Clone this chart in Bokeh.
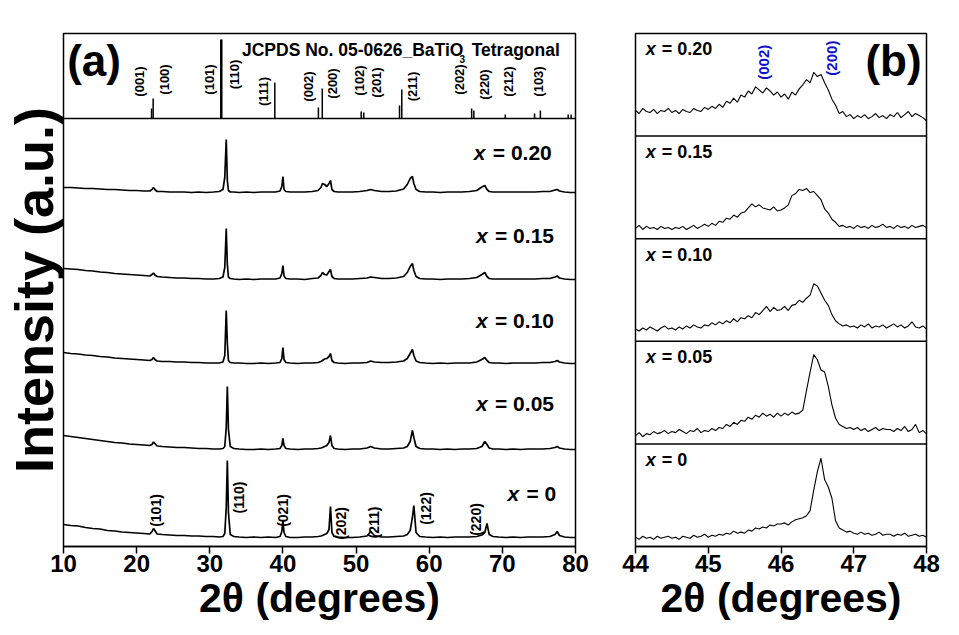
import numpy as np
from bokeh.plotting import figure
from bokeh.layouts import row
from bokeh.models import Range1d, FixedTicker, Span
from bokeh.core.properties import value
from bokeh.embed import file_html
from bokeh.resources import INLINE

FONT = "Liberation Sans"

# ---------------- panel (a) data ----------------
tt_a = [10, 11, 12, 13, 14, 15, 16, 17, 18, 19,
        20, 21, 21.8, 22.1, 22.3, 22.5, 22.8, 23.5, 24.5, 25.5,
        26.5, 27.5, 28.5, 29.5, 30.5, 31.3, 31.8, 32.05, 32.25, 32.4,
        32.55, 32.8, 33.3, 34, 35, 36, 37, 38, 39, 39.6,
        39.85, 40.0, 40.15, 40.4, 41, 42, 43, 44, 44.8, 45.2,
        45.4, 45.7, 46.0, 46.3, 46.5, 46.7, 47.0, 47.5, 48.5, 49.5,
        50.5, 51.5, 52.0, 52.5, 53.5, 54.5, 55.5, 56.5, 57.0, 57.4,
        57.7, 57.9, 58.2, 58.7, 59.5, 60.5, 61.5, 62.5, 63.5, 64.5,
        65.5, 66.5, 67.2, 67.6, 67.9, 68.2, 68.7, 69.5, 70.5, 71.5,
        72.5, 73.5, 74.5, 75.5, 76.5, 77.2, 77.5, 77.8, 78.5, 79.3,
        80]

i_x000 = [13, 12, 11.5, 10, 9, 8.5, 7, 6.5, 5.5, 5,
          4.5, 4, 3.5, 6, 9, 7, 3.5, 3, 2.5, 2,
          2, 1.5, 1.5, 1, 1, 0.5, 1, 4, 30, 77,
          25, 3, 1, 0.5, 0, 0.5, 0, 0.5, 0, 1,
          6, 17, 5, 1, 0, 0, 0.5, 0.5, 1, 1.5,
          2, 3, 4, 8, 31, 5, 1, 0.5, 0, 0,
          0.5, 1.5, 6, 2, 0.5, 0.5, 1, 1.5, 3, 7,
          20, 32, 5, 1, 0.5, 0, 0.5, 0, 0.5, 0.5,
          0.5, 1, 2.5, 5, 14, 3, 1, 0.5, 0, 0.5,
          0, 0.5, 0.5, 0.5, 1, 3, 6, 2, 0.5, 0,
          0]

i_x005 = [14, 13, 12, 11, 10, 9, 8, 7, 6.5, 5.5,
          5, 4.5, 4, 5, 7.5, 6, 3.5, 3, 2.5, 2,
          2, 1.5, 1, 1, 0.5, 0.5, 1, 3, 22, 63,
          20, 3, 1, 0.5, 0, 0, 0.5, 0, 0.5, 1,
          4, 11, 4, 1, 0.5, 0, 0.5, 0.5, 1, 1.5,
          2, 3, 4, 7, 14, 4, 1, 0.5, 0, 0.5,
          0.5, 1.5, 3, 1.5, 0.5, 0.5, 1, 1.5, 3, 8,
          19, 12, 3, 1, 0.5, 0.5, 0, 0.5, 0, 0.5,
          0.5, 1, 3, 8, 5, 1.5, 0.5, 0.5, 0, 0.5,
          0, 0.5, 0.5, 0.5, 1, 2, 3, 1.5, 0.5, 0,
          0]

i_x010 = [11, 10, 9.5, 8.5, 8, 7, 6.5, 5.5, 5, 4.5,
          4, 3.5, 3, 4, 6, 4, 2.5, 2, 2, 1.5,
          1.5, 1, 1, 0.5, 0.5, 0.5, 1.5, 8, 53, 20,
          3, 1, 0.5, 0.5, 0, 0, 0.5, 0, 0.5, 1,
          5, 16, 4, 1, 0.5, 0, 0.5, 0.5, 1, 2,
          3, 4.5, 5, 7, 10, 3, 1, 0.5, 0, 0.5,
          0.5, 1, 2.5, 1.5, 1, 1, 1.5, 2.5, 5, 10,
          14, 8, 2.5, 1, 0.5, 0, 0.5, 0, 0.5, 0.5,
          0.5, 1.5, 4, 6, 3, 1, 0.5, 0.5, 0, 0.5,
          0.5, 0.5, 0.5, 1, 1, 2, 3, 1.5, 0.5, 0,
          0]

i_x015 = [11, 10.5, 10, 9, 8.5, 7.5, 7, 6, 5.5, 5,
          4.5, 4, 3.5, 5, 6.5, 4.5, 3, 2.5, 2, 1.5,
          1.5, 1, 1, 0.5, 0.5, 1, 2.5, 12, 51, 15,
          2.5, 1, 0.5, 0, 0.5, 0, 0.5, 0.5, 0.5, 1.5,
          6, 14, 3.5, 1, 0.5, 0.5, 0, 1, 1.5, 4,
          7, 5, 4.5, 8, 10, 3, 1, 0.5, 0.5, 0.5,
          1, 1.5, 2.5, 2, 1, 1, 1.5, 3, 7, 13,
          16, 9, 3, 1, 0.5, 0.5, 0, 0.5, 0.5, 0.5,
          1, 2, 5, 7, 3, 1, 0.5, 0.5, 0.5, 0.5,
          0.5, 0.5, 0.5, 1, 1, 2.5, 3.5, 1.5, 0.5, 0,
          0]

i_x020 = [5, 5, 4.5, 4, 4, 3.5, 3, 3, 2.5, 2,
          2, 1.5, 1.5, 3, 5, 3, 1, 1, 0.5, 0.5,
          0.5, 0, 0.5, 0, 0.5, 1, 3, 15, 53, 12,
          2, 0.5, 0.5, 0, 0.5, 0, 0.5, 0.5, 0.5, 1.5,
          6, 16, 3, 1, 0.5, 0.5, 0.5, 1, 2, 5,
          9, 8, 6, 9, 12, 3, 1, 0.5, 0.5, 0.5,
          1, 2, 3, 2, 1, 1, 1.5, 3.5, 8, 14,
          16, 9, 3, 1, 0.5, 0.5, 0, 0.5, 0.5, 0.5,
          1, 2, 5.5, 7, 3, 1, 0.5, 0.5, 0.5, 0.5,
          0.5, 0.5, 0.5, 1, 1, 2.5, 3, 1.5, 0.5, 0,
          0]

samples = ["0", "0.05", "0.10", "0.15", "0.20"]
patterns_a = [i_x000, i_x005, i_x010, i_x015, i_x020]
offsets_a = [9, 97, 183, 267, 354]          # vertical stacking (px units)
label_a_x = [70.7, 66.4, 66.4, 66.4, 66.1]
label_a_y = [53, 143, 226, 311, 394]

# JCPDS 05-0626 reference sticks
jcpds_tt = [22.04, 22.26, 31.50, 31.64, 38.89, 44.85, 45.38, 50.70, 51.05,
            55.94, 56.25, 65.80, 66.10, 70.40, 74.40, 75.20, 79.00, 79.40]
jcpds_h = [10, 20, 79, 79, 36, 11, 30, 7, 6, 13, 29, 10, 8, 4, 5, 8, 4, 4]
jcpds_lbl = ["(001)", "(100)", "(101)", "(110)", "(111)", "(002)", "(200)",
             "(102)", "(201)", "(211)", "(202)", "(220)", "(212)", "(103)"]
jcpds_lbl_tt = [20.4, 23.8, 30.0, 33.4, 37.4, 43.5, 46.8, 50.5, 52.8,
                57.7, 64.1, 67.5, 70.9, 75.0]
jcpds_lbl_y = [465, 467, 467, 472, 455, 460, 463, 466, 464, 460, 467, 462, 465, 465]

# hkl labels on the x = 0 pattern
hkl0_lbl = ["(101)", "(110)", "(021)", "(202)", "(211)", "(122)", "(220)"]
hkl0_tt = [22.7, 34.0, 40.0, 48.0, 52.5, 59.6, 66.4]
hkl0_y = [36, 49, 36, 23, 24, 38, 27]

ticks_a = [10, 20, 30, 40, 50, 60, 70, 80]

# ---------------- panel (b) data ----------------
tt_b = [44.00, 44.05, 44.10, 44.15, 44.20, 44.25, 44.30, 44.35, 44.40, 44.45,
        44.50, 44.55, 44.60, 44.65, 44.70, 44.75, 44.80, 44.85, 44.90, 44.95,
        45.00, 45.05, 45.10, 45.15, 45.20, 45.25, 45.30, 45.35, 45.40, 45.45,
        45.50, 45.55, 45.60, 45.65, 45.70, 45.75, 45.80, 45.85, 45.90, 45.95,
        46.00, 46.05, 46.10, 46.15, 46.20, 46.25, 46.30, 46.35, 46.40, 46.45,
        46.50, 46.55, 46.60, 46.65, 46.70, 46.75, 46.80, 46.85, 46.90, 46.95,
        47.00, 47.05, 47.10, 47.15, 47.20, 47.25, 47.30, 47.35, 47.40, 47.45,
        47.50, 47.55, 47.60, 47.65, 47.70, 47.75, 47.80, 47.85, 47.90, 47.95,
        48.00]

b_x000 = [.09, .07, .10, .08, .09, .07, .10, .08, .09, .10,
          .08, .09, .07, .10, .09, .08, .11, .09, .10, .12,
          .09, .11, .10, .12, .11, .13, .12, .15, .13, .14,
          .13, .16, .15, .18, .17, .19, .18, .21, .20, .22,
          .22, .23, .21, .24, .26, .27, .28, .30, .35, .55,
          .73, .86, .65, .58, .47, .25, .18, .16, .14, .15,
          .13, .12, .14, .12, .13, .11, .12, .14, .11, .12,
          .12, .10, .12, .11, .13, .10, .11, .12, .10, .11,
          .09]

b_x005 = [.08, .11, .07, .10, .09, .12, .10, .11, .13, .10,
          .12, .11, .14, .12, .10, .13, .12, .15, .11, .13,
          .12, .15, .13, .16, .15, .19, .17, .21, .19, .23,
          .22, .26, .24, .28, .26, .30, .27, .29, .26, .30,
          .27, .30, .28, .31, .29, .30, .33, .52, .70, .87,
          .82, .72, .70, .56, .38, .25, .19, .17, .15, .16,
          .14, .16, .13, .15, .12, .14, .16, .13, .15, .14,
          .14, .12, .15, .13, .17, .12, .14, .19, .11, .13,
          .10]

b_x010 = [.12, .10, .13, .11, .14, .12, .10, .13, .15, .12,
          .13, .11, .14, .12, .15, .13, .16, .14, .13, .16,
          .15, .18, .16, .19, .17, .20, .18, .22, .19, .23,
          .22, .25, .23, .28, .26, .30, .34, .29, .33, .30,
          .31, .34, .30, .35, .36, .40, .38, .42, .45, .56,
          .54, .47, .40, .35, .26, .20, .17, .15, .16, .14,
          .15, .13, .16, .14, .17, .13, .15, .14, .16, .13,
          .15, .17, .14, .16, .13, .15, .19, .14, .13, .15,
          .12]

b_x015 = [.10, .13, .09, .12, .10, .11, .09, .12, .10, .11,
          .09, .11, .10, .12, .09, .11, .13, .10, .12, .14,
          .12, .15, .13, .17, .16, .20, .19, .23, .21, .25,
          .26, .30, .34, .31, .33, .30, .29, .28, .31, .27,
          .28, .30, .33, .42, .44, .48, .47, .49, .45, .46,
          .42, .38, .29, .25, .19, .16, .12, .13, .11, .12,
          .10, .13, .11, .12, .10, .13, .11, .12, .14, .11,
          .12, .10, .13, .11, .12, .10, .13, .11, .12, .13,
          .11]

b_x020 = [.25, .22, .27, .24, .23, .26, .22, .25, .24, .27,
          .23, .25, .22, .26, .24, .23, .27, .25, .24, .28,
          .26, .29, .27, .31, .28, .34, .32, .37, .33, .40,
          .38, .44, .41, .48, .45, .42, .47, .44, .40, .43,
          .38, .41, .36, .43, .40, .46, .50, .55, .52, .62,
          .58, .60, .52, .45, .36, .30, .22, .24, .19, .21,
          .17, .20, .18, .21, .17, .19, .22, .18, .20, .17,
          .21, .19, .23, .18, .21, .24, .19, .22, .20, .18,
          .15]

patterns_b = [b_x000, b_x005, b_x010, b_x015, b_x020]
label_b_x = 44.14
label_b_dy = 0.845
blue_lbl = ["(002)", "(200)"]
blue_tt = [45.76, 46.70]
blue_y = [4.72, 4.76]
ticks_b = [44, 45, 46, 47, 48]

for arr in patterns_a:
    assert len(arr) == len(tt_a), len(arr)
for arr in patterns_b:
    assert len(arr) == len(tt_b), len(arr)

H_FRAME = 513
TOP_BASE = 428


def style_xaxis(p, ticks):
    p.xaxis.ticker = FixedTicker(ticks=ticks, minor_ticks=[])
    p.xaxis.major_tick_out = 7
    p.xaxis.major_tick_in = 0
    p.xaxis.major_tick_line_width = 1.5
    p.xaxis.axis_line_width = 1.5
    p.xaxis.major_label_text_font = FONT
    p.xaxis.major_label_text_font_style = "bold"
    p.xaxis.major_label_text_font_size = "24px"
    p.xaxis.major_label_text_color = "black"
    p.xaxis.major_label_standoff = 1
    p.xaxis.axis_label = "2θ (degrees)"
    p.xaxis.axis_label_text_font = FONT
    p.xaxis.axis_label_text_font_style = "bold"
    p.xaxis.axis_label_text_font_size = "41px"
    p.xaxis.axis_label_text_color = "black"
    p.xaxis.axis_label_standoff = 0
    p.outline_line_color = "black"
    p.outline_line_width = 1.5
    p.outline_line_alpha = 1
    p.xgrid.visible = False
    p.ygrid.visible = False


# ---------------- figure (a) ----------------
pa = figure(width=600, height=633, output_backend="svg", toolbar_location=None,
            x_range=Range1d(10, 80), y_range=Range1d(0, H_FRAME),
            min_border_left=61, min_border_right=25, min_border_top=33,
            min_border_bottom=87, background_fill_color="white",
            border_fill_color="white")
style_xaxis(pa, ticks_a)
pa.yaxis.ticker = FixedTicker(ticks=[], minor_ticks=[])
pa.yaxis.major_label_text_font_size = "0px"
pa.yaxis.major_label_standoff = 0
pa.yaxis.major_tick_out = 0
pa.yaxis.axis_line_color = None
pa.yaxis.axis_label = "Intensity (a.u.)"
pa.yaxis.axis_label_text_font = FONT
pa.yaxis.axis_label_text_font_style = "bold"
pa.yaxis.axis_label_text_font_size = "54px"
pa.yaxis.axis_label_text_color = "black"
pa.yaxis.axis_label_standoff = 0

pa.add_layout(Span(location=TOP_BASE, dimension="width", line_color="black",
                   line_width=1.5))

for pat, off in zip(patterns_a, offsets_a):
    pa.line(tt_a, [v + off for v in pat], line_color="black", line_width=1.7)

pa.segment(x0=jcpds_tt, y0=[TOP_BASE] * len(jcpds_tt), x1=jcpds_tt,
           y1=[TOP_BASE + h for h in jcpds_h], line_color="black", line_width=1.5)
pa.text(x=jcpds_lbl_tt, y=jcpds_lbl_y, text=jcpds_lbl, angle=np.pi / 2,
        text_align="center", text_baseline="middle", text_font=value(FONT),
        text_font_style="bold", text_font_size="13px", text_color="black")
pa.text(x=[34.4], y=[497], text=["JCPDS No. 05-0626_BaTiO"], text_align="left",
        text_baseline="middle", text_font=value(FONT), text_font_style="bold",
        text_font_size="17.5px", text_color="black")
pa.text(x=[64.15], y=[488], text=["3"], text_align="left",
        text_baseline="middle", text_font=value(FONT), text_font_style="bold",
        text_font_size="10px", text_color="black")
pa.text(x=[65.8], y=[497], text=["Tetragonal"], text_align="left",
        text_baseline="middle", text_font=value(FONT), text_font_style="bold",
        text_font_size="17.5px", text_color="black")
pa.text(x=[10.5], y=[486], text=["(a)"], text_align="left",
        text_baseline="middle", text_font=value(FONT), text_font_style="bold",
        text_font_size="44px", text_color="black")

pa.text(x=hkl0_tt, y=hkl0_y, text=hkl0_lbl, angle=np.pi / 2,
        text_align="center", text_baseline="middle", text_font=value(FONT),
        text_font_style="bold", text_font_size="14px", text_color="black")

pa.text(x=label_a_x, y=label_a_y, text=["x"] * 5, text_align="left",
        text_baseline="middle", text_font=value(FONT),
        text_font_style="bold italic", text_font_size="21px", text_color="black")
pa.text(x=label_a_x, y=label_a_y, text=["= " + s for s in samples], x_offset=19,
        text_align="left", text_baseline="middle", text_font=value(FONT),
        text_font_style="bold", text_font_size="21px", text_color="black")

# ---------------- figure (b) ----------------
pb = figure(width=346, height=633, output_backend="svg", toolbar_location=None,
            x_range=Range1d(44, 48), y_range=Range1d(0, 5),
            min_border_left=35, min_border_right=20, min_border_top=33,
            min_border_bottom=87, background_fill_color="white",
            border_fill_color="white")
style_xaxis(pb, ticks_b)
pb.yaxis.visible = False

for k in range(1, 5):
    pb.add_layout(Span(location=k, dimension="width", line_color="black",
                       line_width=1.5))

for k, pat in enumerate(patterns_b):
    pb.line(tt_b, [v + k for v in pat], line_color="black", line_width=1.1)

pb.text(x=[label_b_x] * 5, y=[k + label_b_dy for k in range(5)], text=["x"] * 5,
        text_align="left", text_baseline="middle", text_font=value(FONT),
        text_font_style="bold italic", text_font_size="18px", text_color="black")
pb.text(x=[label_b_x] * 5, y=[k + label_b_dy for k in range(5)],
        text=["= " + s for s in samples], x_offset=16, text_align="left",
        text_baseline="middle", text_font=value(FONT), text_font_style="bold",
        text_font_size="18px", text_color="black")
pb.text(x=blue_tt, y=blue_y, text=blue_lbl, angle=np.pi / 2, text_align="center",
        text_baseline="middle", text_font=value(FONT), text_font_style="bold",
        text_font_size="15px", text_color="#1010CC")
pb.text(x=[47.16], y=[4.74], text=["(b)"], text_align="left",
        text_baseline="middle", text_font=value(FONT), text_font_style="bold",
        text_font_size="44px", text_color="black")

layout = row(pa, pb)
open("out.html", "w").write(file_html(layout, INLINE))
